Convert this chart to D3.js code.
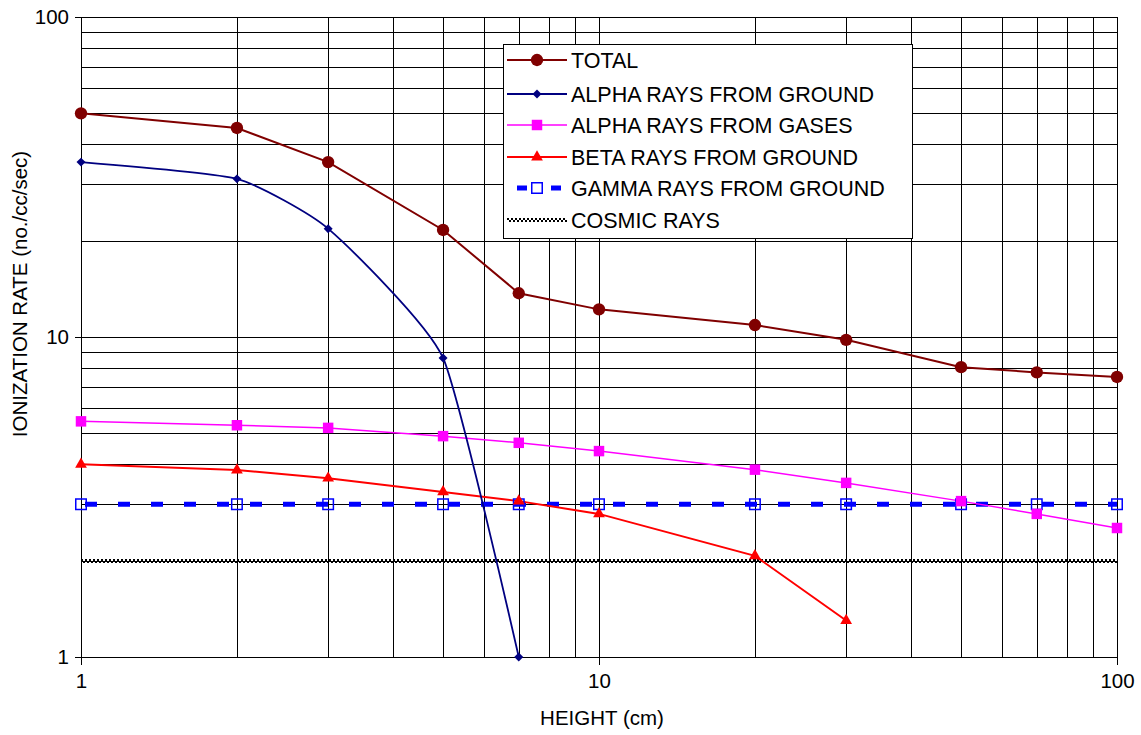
<!DOCTYPE html>
<meta charset="utf-8">
<style>
body { margin: 0; background: #fff; }
text { font-family: 'Liberation Sans', Arial, sans-serif; fill: #000; }
.grid line { stroke: #000; stroke-width: 1; shape-rendering: crispEdges; }
.axis path, .axis line { stroke: #000; shape-rendering: crispEdges; }
.axis text { font-size: 20.5px; }
</style>
<div class="chart"></div>
<script src="https://d3js.org/d3.v7.min.js"></script>
<script>
    // values
    var heights = [1, 2, 3, 5, 7, 10, 20, 30, 50, 70, 100];
    var total = [50, 45, 35.2, 21.6, 13.7, 12.2, 10.9, 9.8, 8.05, 7.75, 7.5];
    var alphaGround = [35.2, 31.2, 21.8, 8.6, 1];          // heights 1..7
    var alphaGases = [5.45, 5.3, 5.2, 4.9, 4.67, 4.4, 3.85, 3.5, 3.07, 2.8, 2.53];
    var betaGround = [4.0, 3.84, 3.62, 3.28, 3.07, 2.8, 2.07, 1.3]; // heights 1..30
    var gammaGround = [3, 3, 3, 3, 3, 3, 3, 3, 3, 3, 3];
    var cosmic = [2, 2, 2, 2, 2, 2, 2, 2, 2, 2, 2];
    var seriesNames = ["TOTAL", "ALPHA RAYS FROM GROUND", "ALPHA RAYS FROM GASES",
        "BETA RAYS FROM GROUND", "GAMMA RAYS FROM GROUND", "COSMIC RAYS"];

    var margin = { top: 17, right: 24, bottom: 78, left: 81 };
    var W = 1141, H = 735;
    var width = W - margin.left - margin.right;
    var height = H - margin.top - margin.bottom;

    var svg = d3.select(".chart").append("svg")
        .attr("width", W)
        .attr("height", H)
        .append("g")
        .attr("transform", "translate(" + margin.left + "," + margin.top + ")");

    var x = d3.scaleLog().domain([1, 100]).range([0, width]);
    var y = d3.scaleLog().domain([1, 100]).range([height, 0]);

    // grid at every 1..9 step of each decade
    var gridVals = [];
    [1, 10].forEach(function (d) { for (var k = 1; k < 10; k++) gridVals.push(d * k); });
    gridVals.push(100);

    var grid = svg.append("g").attr("class", "grid");
    grid.selectAll(".h").data(gridVals).enter().append("line")
        .attr("x1", 0).attr("x2", width)
        .attr("y1", function (d) { return Math.round(y(d)) + 0.5; })
        .attr("y2", function (d) { return Math.round(y(d)) + 0.5; });
    grid.selectAll(".v").data(gridVals).enter().append("line")
        .attr("y1", 0).attr("y2", height)
        .attr("x1", function (d) { return Math.round(x(d)) + 0.5; })
        .attr("x2", function (d) { return Math.round(x(d)) + 0.5; });

    svg.append("g")
        .attr("class", "y axis")
        .call(d3.axisLeft(y).tickValues([1, 10, 100]).tickFormat(d3.format("d"))
            .tickSize(6).tickSizeOuter(0).tickPadding(6));

    svg.append("g")
        .attr("class", "x axis")
        .attr("transform", "translate(0," + height + ")")
        .call(d3.axisBottom(x).tickValues([1, 10, 100]).tickFormat(d3.format("d"))
            .tickSize(8).tickSizeOuter(0).tickPadding(8));

    svg.append("text")
        .attr("x", width / 2 + 3)
        .attr("y", 708)
        .attr("text-anchor", "middle")
        .style("font-size", "20.5px")
        .text("HEIGHT (cm)");

    svg.append("text")
        .attr("transform", "translate(" + (-61 + 7) + "," + (294 - margin.top) + ") rotate(-90)")
        .attr("text-anchor", "middle")
        .style("font-size", "20.5px")
        .text("IONIZATION RATE (no./cc/sec)");

    function pts(vals) {
        return vals.map(function (v, i) { return [heights[i], v]; });
    }
    var line = d3.line()
        .x(function (d) { return x(d[0]); })
        .y(function (d) { return y(d[1]); });

    // cosmic rays: checkered band made of two offset dotted rows
    function checker(g, x1, x2, yy) {
        g.append("line").attr("x1", x1).attr("x2", x2).attr("y1", yy - 1).attr("y2", yy - 1)
            .attr("stroke", "#000").attr("stroke-width", 2).attr("stroke-dasharray", "2,2");
        g.append("line").attr("x1", x1).attr("x2", x2).attr("y1", yy + 1).attr("y2", yy + 1)
            .attr("stroke", "#000").attr("stroke-width", 2).attr("stroke-dasharray", "2,2")
            .attr("stroke-dashoffset", 2);
    }
    var cy = Math.round(y(cosmic[0]));
    checker(svg, x(heights[0]), x(heights[heights.length - 1]), cy);

    // gamma: thick blue dashes with hollow squares
    svg.append("path")
        .datum(pts(gammaGround))
        .attr("fill", "none")
        .attr("stroke", "#0000FF")
        .attr("stroke-width", 5)
        .attr("stroke-dasharray", "12,21")
        .attr("stroke-dashoffset", -4)
        .attr("d", line);

    svg.append("path")
        .datum(pts(betaGround))
        .attr("fill", "none").attr("stroke", "#FF0000").attr("stroke-width", 2)
        .attr("d", line);

    svg.append("path")
        .datum(pts(alphaGases))
        .attr("fill", "none").attr("stroke", "#FF00FF").attr("stroke-width", 1.5)
        .attr("d", line);

    svg.append("path")
        .datum(pts(alphaGround))
        .attr("fill", "none").attr("stroke", "#000080").attr("stroke-width", 1.8)
        .attr("d", line.curve(d3.curveCardinal.tension(0.5)));
    line.curve(d3.curveLinear);

    svg.append("path")
        .datum(pts(total))
        .attr("fill", "none").attr("stroke", "#800000").attr("stroke-width", 2)
        .attr("d", line);

    var sym = {
        circle: d3.symbol().type(d3.symbolCircle).size(120),
        diamond: d3.symbol().type(d3.symbolSquare).size(40),
        square: d3.symbol().type(d3.symbolSquare).size(110),
        triangle: d3.symbol().type(d3.symbolTriangle).size(60)
    };

    function markers(vals, shape, fill, stroke, rot) {
        svg.append("g").selectAll("path").data(pts(vals)).enter().append("path")
            .attr("transform", function (d) {
                return "translate(" + x(d[0]) + "," + y(d[1]) + ")" + (rot ? " rotate(45)" : "");
            })
            .attr("d", sym[shape])
            .attr("fill", fill)
            .attr("stroke", stroke || "none")
            .attr("stroke-width", 1.5);
    }
    markers(gammaGround, "square", "none", "#0000FF");
    markers(betaGround, "triangle", "#FF0000");
    markers(alphaGases, "square", "#FF00FF");
    markers(alphaGround, "diamond", "#000080", null, true);
    markers(total, "circle", "#800000");

    // legend
    var legend = svg.append("g").attr("transform", "translate(" + (503 - margin.left) + "," + (44 - margin.top) + ")");
    legend.append("rect")
        .attr("x", 0.5).attr("y", 0.5).attr("width", 409).attr("height", 194)
        .attr("fill", "#fff").attr("stroke", "#000").attr("stroke-width", 1);

    var rowY = [16, 50, 81, 113, 144, 176];
    var lg = [
        { color: "#800000", w: 2, shape: "circle", fill: "#800000" },
        { color: "#000080", w: 1.8, shape: "diamond", fill: "#000080", rot: true },
        { color: "#FF00FF", w: 1.5, shape: "square", fill: "#FF00FF" },
        { color: "#FF0000", w: 2, shape: "triangle", fill: "#FF0000" },
        { color: "#0000FF", w: 5, shape: "square", fill: "none", stroke: "#0000FF", dash: "10,20" },
        { cosmic: true }
    ];
    seriesNames.forEach(function (name, i) {
        var yy = rowY[i];
        var o = lg[i];
        if (o.cosmic) {
            checker(legend, 4, 64, yy);
        } else if (o.dash) {
            legend.append("line").attr("x1", 14).attr("x2", 24).attr("y1", yy).attr("y2", yy)
                .attr("stroke", o.color).attr("stroke-width", o.w);
            legend.append("line").attr("x1", 48).attr("x2", 58).attr("y1", yy).attr("y2", yy)
                .attr("stroke", o.color).attr("stroke-width", o.w);
        } else {
            legend.append("line").attr("x1", 4).attr("x2", 64).attr("y1", yy).attr("y2", yy)
                .attr("stroke", o.color).attr("stroke-width", o.w);
        }
        if (o.shape) {
            legend.append("path")
                .attr("transform", "translate(34," + yy + ")" + (o.rot ? " rotate(45)" : ""))
                .attr("d", sym[o.shape])
                .attr("fill", o.fill)
                .attr("stroke", o.stroke || "none")
                .attr("stroke-width", 1.5);
        }
        legend.append("text")
            .attr("x", 68)
            .attr("y", yy + 7.5)
            .style("font-size", "21.5px")
            .text(name);
    });
</script>
